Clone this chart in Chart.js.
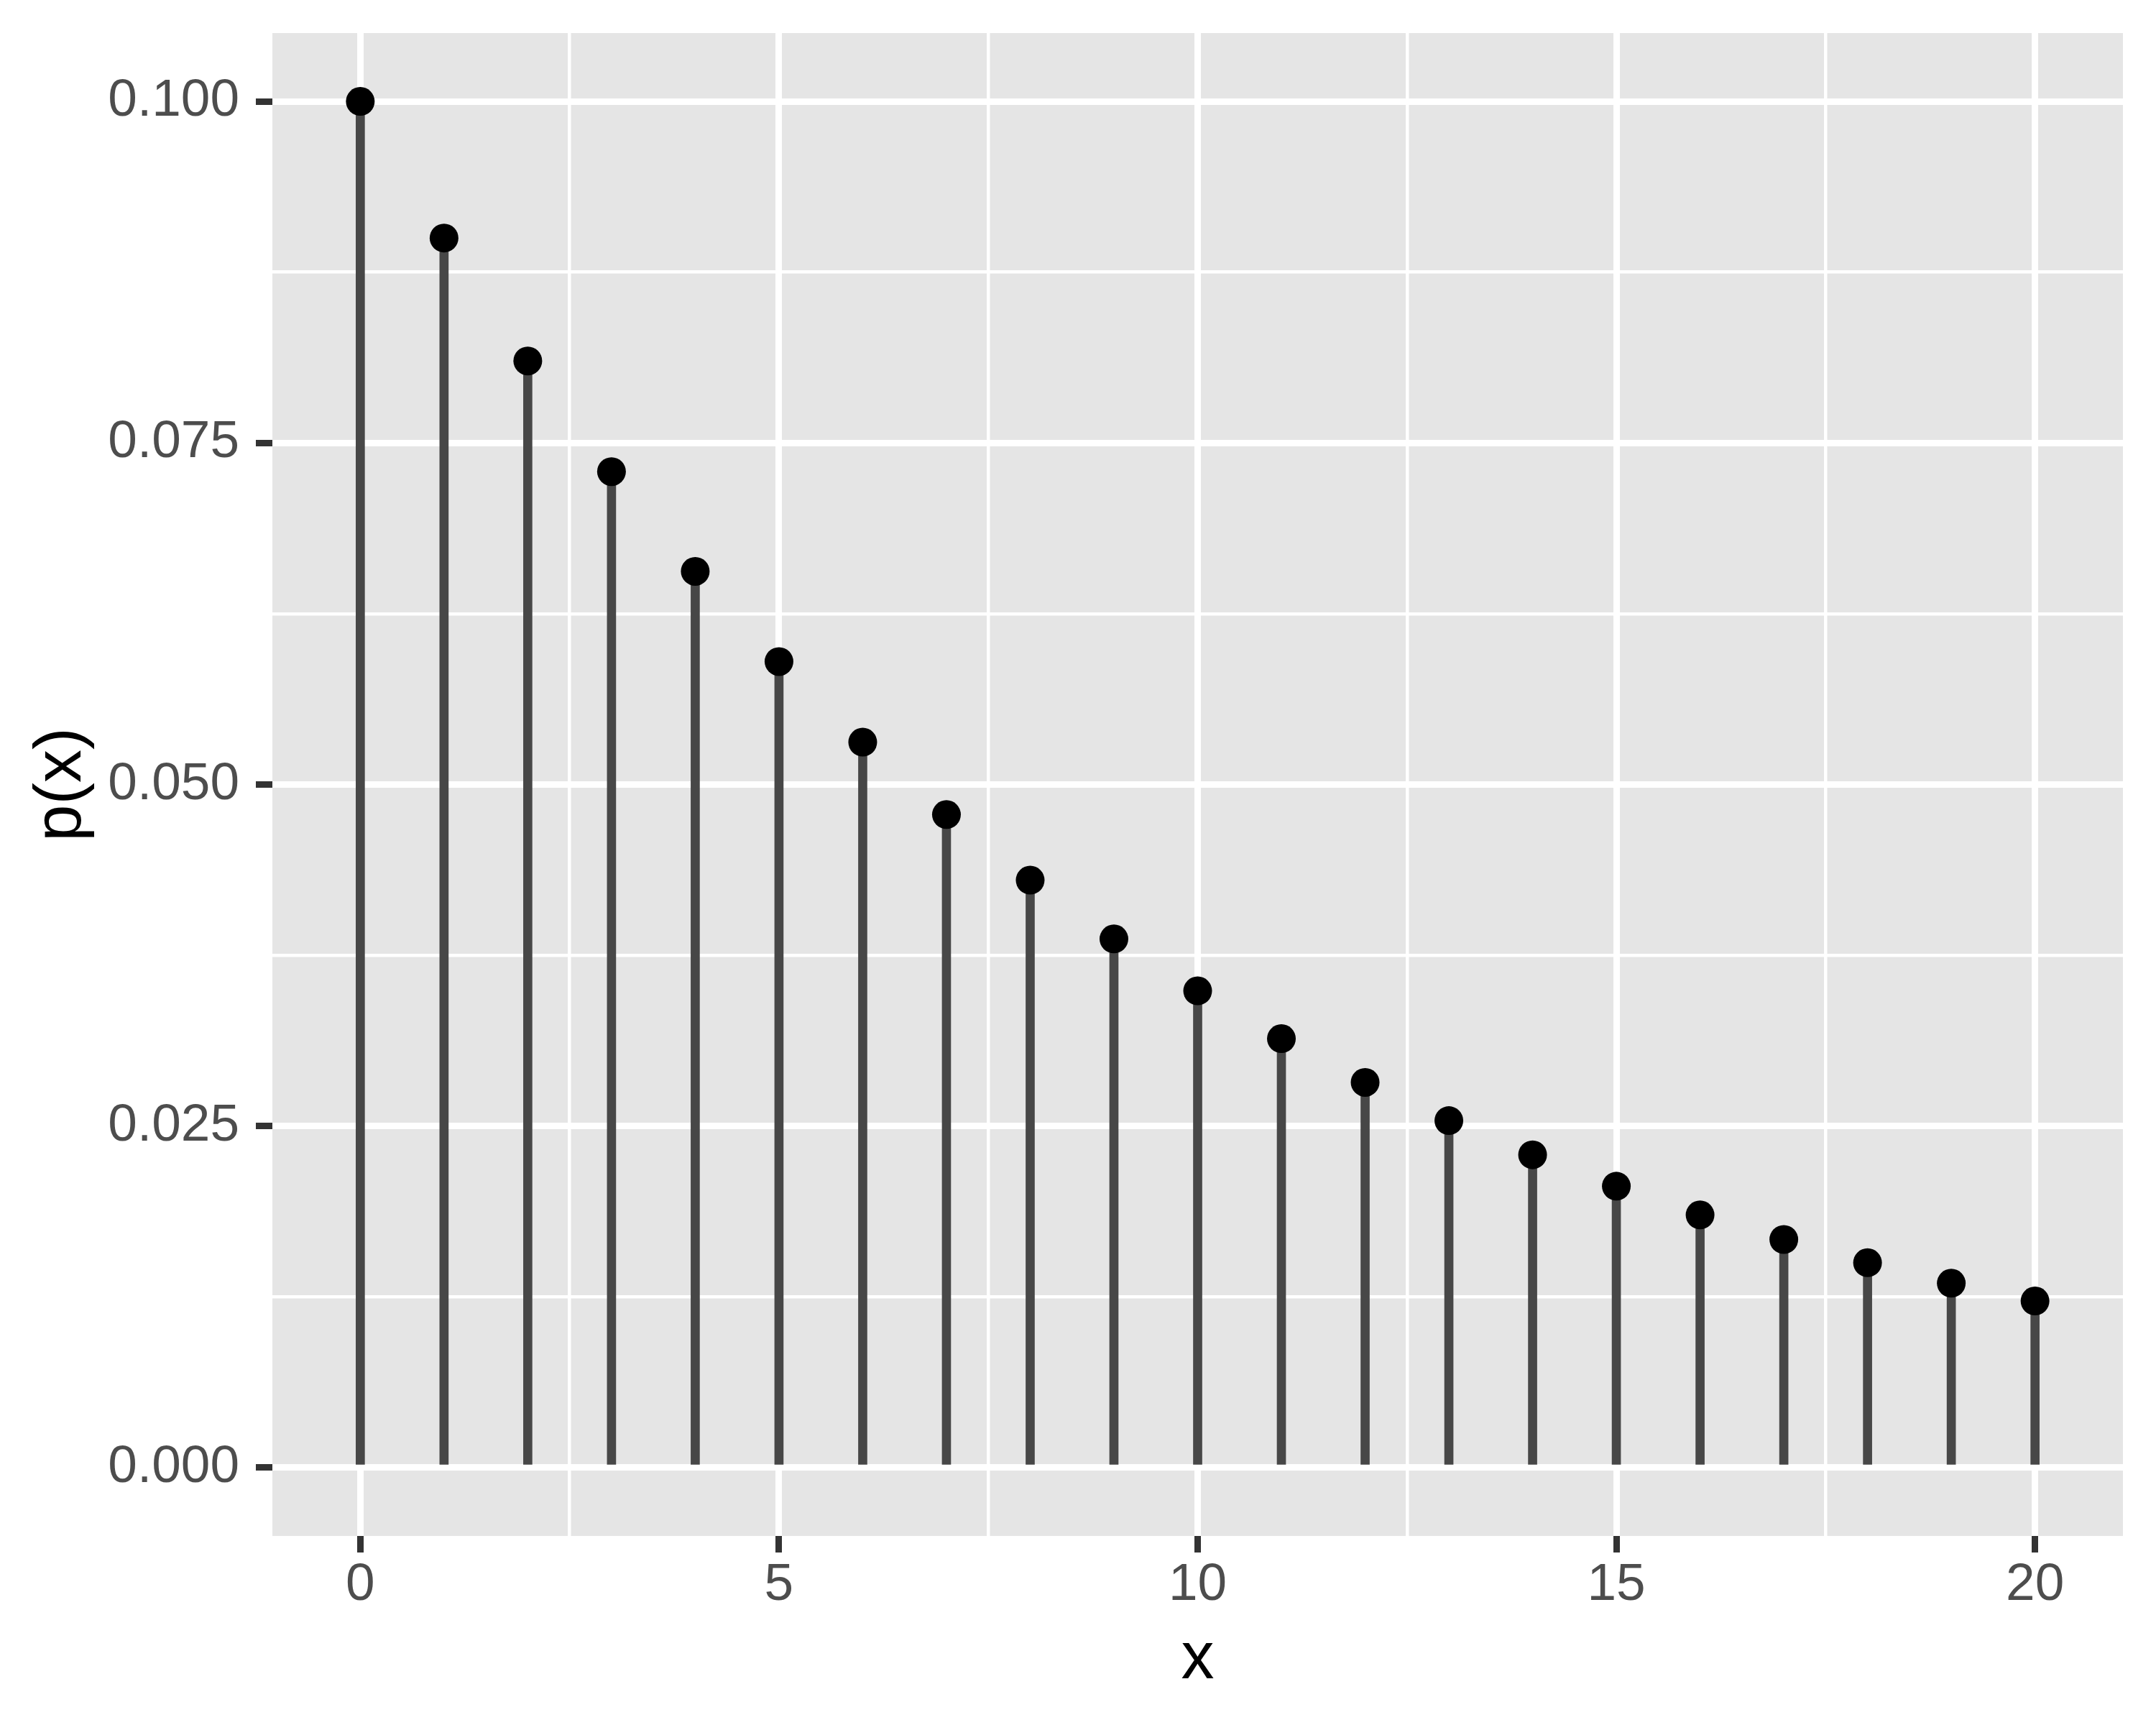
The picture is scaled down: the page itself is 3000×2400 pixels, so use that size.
<!DOCTYPE html>
<html>
<head>
<meta charset="utf-8">
<script src="https://cdn.jsdelivr.net/npm/chart.js@4.4.1/dist/chart.umd.min.js"></script>
<style>
  html, body { margin: 0; padding: 0; background: #ffffff; }
  canvas { display: block; }
</style>
</head>
<body>
<canvas id="pmfChart" width="3000" height="2400"></canvas>
<script>
// values
const xValues = [0, 1, 2, 3, 4, 5, 6, 7, 8, 9, 10, 11, 12, 13, 14, 15, 16, 17, 18, 19, 20];
const pValues = [0.1, 0.09, 0.081, 0.0729, 0.0656, 0.059, 0.0531, 0.0478, 0.043, 0.0387,
                 0.0349, 0.0314, 0.0282, 0.0254, 0.0229, 0.0206, 0.0185, 0.0167, 0.015, 0.0135, 0.0122];
const xTicks = [0, 5, 10, 15, 20];
const yTicks = [0, 0.025, 0.05, 0.075, 0.1];
const xTitle = 'x';
const yTitle = 'p(x)';

function withMinor(major) {
    const out = [];
    for (let i = 0; i < major.length; i++) {
        out.push({ value: major[i], major: true });
        if (i < major.length - 1) out.push({ value: (major[i] + major[i + 1]) / 2, major: false });
    }
    return out;
}

function isMajor(list, v) {
    return list.some(t => Math.abs(t - v) < 1e-9);
}

const panelBackground = {
    id: 'panelBackground',
    beforeDraw(chart) {
        const { ctx, chartArea } = chart;
        ctx.save();
        ctx.fillStyle = '#ffffff';
        ctx.fillRect(0, 0, chart.width, chart.height);
        ctx.fillStyle = '#E5E5E5';
        ctx.fillRect(chartArea.left, chartArea.top, chartArea.right - chartArea.left, chartArea.bottom - chartArea.top);
        ctx.restore();
    }
};

const tickFont = { family: '"Liberation Sans", Arial, sans-serif', size: 73 };
const titleFont = { family: '"Liberation Sans", Arial, sans-serif', size: 92 };

const ctx = document.getElementById('pmfChart').getContext('2d');
new Chart(ctx, {
    type: 'bar',
    data: {
        datasets: [
            {
                type: 'scatter',
                data: xValues.map((x, i) => ({ x: x, y: pValues[i] })),
                backgroundColor: '#000000',
                borderWidth: 0,
                pointRadius: 20,
                order: 0
            },
            {
                type: 'bar',
                data: xValues.map((x, i) => ({ x: x, y: pValues[i] })),
                backgroundColor: '#474747',
                borderWidth: 0,
                barThickness: 12,
                order: 1
            }
        ]
    },
    options: {
        responsive: false,
        devicePixelRatio: 1,
        animation: false,
        layout: { padding: { left: 0, top: 46, right: 46, bottom: 0 } },
        plugins: {
            legend: { display: false },
            tooltip: { enabled: false }
        },
        scales: {
            x: {
                type: 'linear',
                min: -1.05,
                max: 21.05,
                offset: false,
                afterFit(scale) {
                    scale.height = 263;
                    scale.paddingLeft = 0;
                    scale.paddingRight = 0;
                },
                afterBuildTicks(scale) { scale.ticks = withMinor(xTicks); },
                border: { display: false },
                grid: {
                    offset: false,
                    color: '#ffffff',
                    lineWidth: c => (c.tick && isMajor(xTicks, c.tick.value)) ? 9 : 4.5,
                    tickColor: c => (c.tick && isMajor(xTicks, c.tick.value)) ? '#333333' : 'rgba(0,0,0,0)',
                    tickWidth: 9,
                    tickLength: 23
                },
                ticks: {
                    autoSkip: false,
                    maxRotation: 0,
                    padding: 2,
                    color: '#4D4D4D',
                    font: tickFont,
                    callback: v => isMajor(xTicks, v) ? String(v) : ''
                },
                title: {
                    display: true,
                    text: xTitle,
                    color: '#000000',
                    font: titleFont,
                    padding: { top: 0, bottom: 35 }
                }
            },
            y: {
                type: 'linear',
                min: -0.005,
                max: 0.105,
                afterFit(scale) {
                    scale.width = 379;
                    scale.paddingTop = 0;
                    scale.paddingBottom = 0;
                },
                afterBuildTicks(scale) { scale.ticks = withMinor(yTicks); },
                border: { display: false },
                grid: {
                    color: '#ffffff',
                    lineWidth: c => (c.tick && isMajor(yTicks, c.tick.value)) ? 9 : 4.5,
                    tickColor: c => (c.tick && isMajor(yTicks, c.tick.value)) ? '#333333' : 'rgba(0,0,0,0)',
                    tickWidth: 9,
                    tickLength: 23
                },
                ticks: {
                    autoSkip: false,
                    padding: 23,
                    color: '#4D4D4D',
                    font: tickFont,
                    callback: v => isMajor(yTicks, v) ? v.toFixed(3) : ''
                },
                title: {
                    display: true,
                    text: yTitle,
                    color: '#000000',
                    font: titleFont,
                    padding: { top: 31, bottom: 0 }
                }
            }
        }
    },
    plugins: [panelBackground]
});
</script>
</body>
</html>
